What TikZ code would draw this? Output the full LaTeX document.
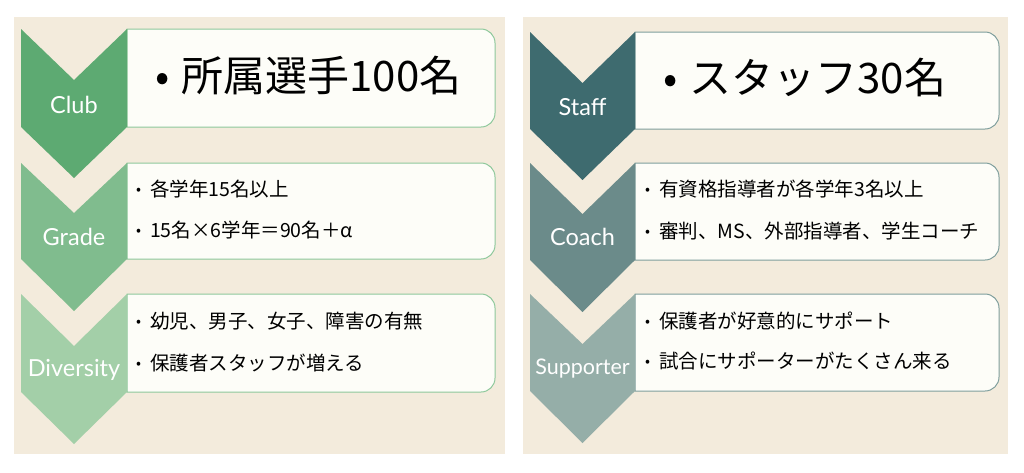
\documentclass[tikz,border=0pt]{standalone}
\usepackage{fontspec}
\newfontfamily\jp{Noto Sans CJK JP}
\newfontfamily\lab{Lato}
\definecolor{bgbeige}{HTML}{F3EBDC}
\definecolor{boxfill}{HTML}{FDFDF8}
\definecolor{gA}{HTML}{5DAA72}
\definecolor{gB}{HTML}{80BC8E}
\definecolor{gC}{HTML}{A3CFA8}
\definecolor{gLine}{HTML}{8DC89B}
\definecolor{tA}{HTML}{3E6B6F}
\definecolor{tB}{HTML}{6B8B8A}
\definecolor{tC}{HTML}{95AEA8}
\definecolor{tLine}{HTML}{7E9E9C}
\newcommand{\smbul}{\raisebox{0.1em}{\scalebox{0.75}{•}}\hspace{9pt}}
\newcommand{\bgbul}{•\hspace{12pt}}
\tikzset{
  panel/.style={fill=bgbeige, draw=none},
  boxL/.style={fill=boxfill, draw=gLine, line width=1pt},
  boxR/.style={fill=boxfill, draw=tLine, line width=1pt},
  lbl/.style={text=white, font=\lab\fontsize{23.5}{26}\selectfont, inner sep=0pt},
  big/.style={anchor=west, inner sep=0pt, font=\jp\fontsize{42}{46}\selectfont},
  item/.style={anchor=west, inner sep=0pt, font=\jp\fontsize{19.5}{22}\selectfont}
}
\begin{document}
\begin{tikzpicture}[x=1pt,y=1pt]
\useasboundingbox[fill=white] (0,0) rectangle (1024,-472);
% panels
\fill[panel] (14,-17) rectangle (505,-454);
\fill[panel] (523,-17) rectangle (1008,-454);

% ---- left boxes
\draw[boxL] (127,-29) -- (481,-29) arc[start angle=90,end angle=0,radius=14] -- (495,-113) arc[start angle=0,end angle=-90,radius=14] -- (127,-127) -- cycle;
\draw[boxL] (127,-163) -- (481,-163) arc[start angle=90,end angle=0,radius=14] -- (495,-245) arc[start angle=0,end angle=-90,radius=14] -- (127,-259) -- cycle;
\draw[boxL] (127,-294) -- (481,-294) arc[start angle=90,end angle=0,radius=14] -- (495,-378) arc[start angle=0,end angle=-90,radius=14] -- (127,-392) -- cycle;
% ---- left chevrons
\fill[gA] (21,-29) -- (74,-80) -- (127,-29) -- (127,-127) -- (74,-178) -- (21,-127) -- cycle;
\fill[gB] (21,-163) -- (74,-213) -- (127,-163) -- (127,-259) -- (74,-311) -- (21,-259) -- cycle;
\fill[gC] (21,-294) -- (74,-346) -- (127,-294) -- (127,-392) -- (74,-444) -- (21,-392) -- cycle;
\node[lbl] (club) at (74,-105) {Club};
\node[lbl] (grade) at (74,-237) {Grade};
\node[lbl] (div) at (74,-370) {Diversity};
\node[big] (l1) at (155,-76) {\bgbul 所属選手100名};
\node[item] (l2a) at (136,-189) {\smbul 各学年15名以上};
\node[item] (l2b) at (136,-230) {\smbul 15名×6学年＝90名＋α};
\node[item] (l3a) at (136,-321) {\smbul 幼児、男子、女子、障害の有無};
\node[item] (l3b) at (136,-363) {\smbul 保護者スタッフが増える};

% ---- right boxes
\draw[boxR] (635,-32) -- (985,-32) arc[start angle=90,end angle=0,radius=14] -- (999,-115) arc[start angle=0,end angle=-90,radius=14] -- (635,-129) -- cycle;
\draw[boxR] (635,-163) -- (985,-163) arc[start angle=90,end angle=0,radius=14] -- (999,-246) arc[start angle=0,end angle=-90,radius=14] -- (635,-260) -- cycle;
\draw[boxR] (635,-294) -- (985,-294) arc[start angle=90,end angle=0,radius=14] -- (999,-377) arc[start angle=0,end angle=-90,radius=14] -- (635,-391) -- cycle;
% ---- right chevrons
\fill[tA] (530,-32) -- (582.5,-83) -- (635,-32) -- (635,-129) -- (582.5,-180) -- (530,-129) -- cycle;
\fill[tB] (530,-163) -- (582.5,-214) -- (635,-163) -- (635,-260) -- (582.5,-312) -- (530,-260) -- cycle;
\fill[tC] (530,-294) -- (582.5,-344) -- (635,-294) -- (635,-391) -- (582.5,-443) -- (530,-391) -- cycle;
\node[lbl] (staff) at (582.5,-107) {Staff};
\node[lbl] (coach) at (582.5,-237) {Coach};
\node[lbl, font=\lab\fontsize{21.5}{24}\selectfont] (supp) at (582.5,-369) {Supporter};
\node[big] (r1) at (663,-78) {\bgbul スタッフ30名};
\node[item] (r2a) at (645,-189) {\smbul 有資格指導者が各学年3名以上};
\node[item] (r2b) at (645,-231) {\smbul 審判、MS、外部指導者、学生コーチ};
\node[item] (r3a) at (645,-321) {\smbul 保護者が好意的にサポート};
\node[item] (r3b) at (645,-361) {\smbul 試合にサポーターがたくさん来る};
\end{tikzpicture}
\end{document}
